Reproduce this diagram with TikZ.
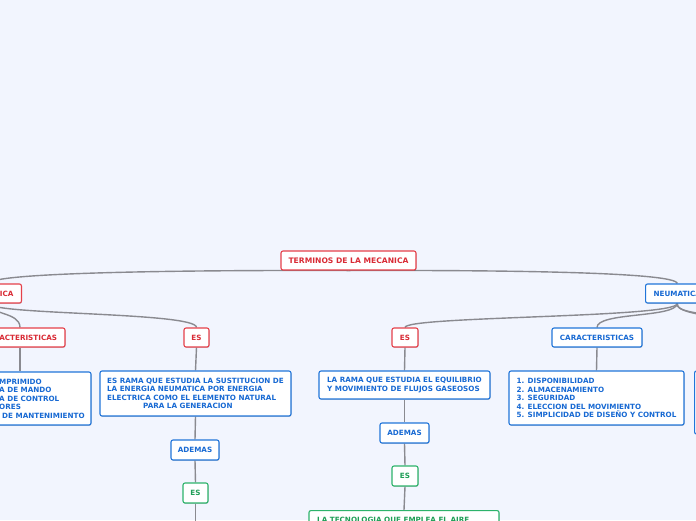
\documentclass[tikz,border=0pt]{standalone}
\usepackage{fontspec}
\setsansfont{DejaVu Sans}
\usetikzlibrary{backgrounds,shadows}
\definecolor{bg}{HTML}{F2F5FE}
\definecolor{rd}{HTML}{E5404A}
\definecolor{rdt}{HTML}{D92B35}
\definecolor{bl}{HTML}{2175D9}
\definecolor{blt}{HTML}{1769D3}
\definecolor{gr}{HTML}{2DB36B}
\definecolor{grt}{HTML}{1F9E57}
\definecolor{ln}{HTML}{8A8A90}
\tikzset{
  base/.style={draw, fill=white, rounded corners=2pt, line width=1.1pt,
    font=\sffamily\bfseries\fontsize{7.2}{8.5}\selectfont, inner sep=0pt,
    minimum height=19pt,
    drop shadow={shadow xshift=0.5pt, shadow yshift=-0.9pt, opacity=0.18, fill=black}},
  rbox/.style={base, draw=rd, text=rdt},
  bbox/.style={base, draw=bl, text=blt},
  gbox/.style={base, draw=gr, text=grt},
  plain/.style={font=\sffamily\bfseries\fontsize{7.2}{8.5}\selectfont, inner sep=0pt, align=left},
  conn/.style={draw=ln, line width=1.4pt},
}
\begin{document}
\begin{tikzpicture}[x=1pt,y=-1pt]
\useasboundingbox (0,0) rectangle (696,520);
\begin{pgfonlayer}{background}
  \fill[bg] (0,0) rectangle (696,520);
\end{pgfonlayer}
\clip (0,0) rectangle (696,520);
% level 0
\node[rbox, minimum width=135pt, font=\sffamily\bfseries\fontsize{7.6}{9}\selectfont] (root) at (348.5,260.5) {TERMINOS DE LA MECANICA};
% level 1
\node[rbox, anchor=east, minimum width=64pt, text width=48pt, align=right] (ica) at (22,293.5) {ICA};
\node[bbox, anchor=west, inner xsep=8pt] (neum) at (645,293.5) {NEUMATICA};
% level 2
\node[rbox, minimum width=90pt] (car1) at (20,337.5) {CARACTERISTICAS};
\node[rbox, minimum width=25pt] (es1) at (196.5,337.5) {ES};
\node[rbox, minimum width=26pt] (es2) at (405,337.5) {ES};
\node[bbox, minimum width=90pt] (car2) at (597,337.5) {CARACTERISTICAS};
% level 3
\node[bbox, minimum width=142pt, minimum height=53pt] (box1) at (20,398.5) {};
\node[plain, text=blt, anchor=west] (box1t) at (-1,398.5) {MPRIMIDO\\A DE MANDO\\A DE CONTROL\\ORES\\\hspace*{3pt}DE MANTENIMIENTO};
\node[bbox, minimum width=191pt, minimum height=45pt, align=left] (box2) at (195.5,393.5)
  {ES RAMA QUE ESTUDIA LA SUSTITUCION DE\\LA ENERGIA NEUMATICA POR ENERGIA\\ELECTRICA COMO EL ELEMENTO NATURAL\\\hspace*{36pt}PARA LA GENERACION};
\node[bbox, minimum width=171pt, minimum height=28pt, align=left] (box3) at (404.5,385)
  {LA RAMA QUE ESTUDIA EL EQUILIBRIO\\Y MOVIMIENTO DE FLUJOS GASEOSOS};
\node[bbox, minimum width=175pt, minimum height=54pt, align=left] (box4) at (596.5,398)
  {1. DISPONIBILIDAD\\2. ALMACENAMIENTO\\3. SEGURIDAD\\4. ELECCION DEL MOVIMIENTO\\5. SIMPLICIDAD DE DISEÑO Y CONTROL};
\node[bbox, anchor=west, minimum width=40pt, minimum height=63pt] (boxr) at (694,402.5) {};
% level 4
\node[bbox, minimum width=48pt, minimum height=20pt] (ad1) at (195,450) {ADEMAS};
\node[bbox, minimum width=49pt, minimum height=20pt] (ad2) at (404.5,433) {ADEMAS};
% level 5
\node[gbox, minimum width=25pt, minimum height=20pt] (ges1) at (195.5,493) {ES};
\node[gbox, minimum width=26pt, minimum height=20pt] (ges2) at (405,476) {ES};
% level 6
\node[gbox, anchor=north, minimum width=190pt, minimum height=40pt] (gbig) at (404,510) {};
\node[plain, text=grt, anchor=base west] (gbigt) at (317,522) {LA TECNOLOGIA QUE EMPLEA EL AIRE};
\coordinate (offr1) at (760,332);
\coordinate (offr2) at (790,345);
\coordinate (offb) at (195.5,540);
\begin{pgfonlayer}{background}
  \clip (0,0) rectangle (696,520);
  \draw[conn] (root.south) .. controls (200,270) and (-10,272) .. (ica.north);
  \draw[conn] (root.south) .. controls (500,270) and (676,272) .. (neum.north);
  \draw[conn] (ica.south) .. controls (-10,315) and (20,312) .. (car1.north);
  \draw[conn] (ica.south) .. controls (-10,315) and (196.5,312) .. (es1.north);
  \draw[conn] (neum.south) .. controls (676,318) and (405,316) .. (es2.north);
  \draw[conn] (neum.south) .. controls (676,318) and (597,312) .. (car2.north);
  \draw[conn] (neum.south) .. controls (676,316) and (720,310) .. (offr1);
  \draw[conn] (neum.south) .. controls (676,318) and (740,312) .. (offr2);
  \draw[conn] (car1.south) -- (box1.north);
  \draw[conn] (es1.south) -- (box2.north);
  \draw[conn] (box2.south) -- (ad1.north);
  \draw[conn] (ad1.south) -- (ges1.north);
  \draw[conn] (ges1.south) -- (offb);
  \draw[conn] (es2.south) -- (box3.north);
  \draw[conn] (box3.south) -- (ad2.north);
  \draw[conn] (ad2.south) -- (ges2.north);
  \draw[conn] (ges2.south) -- (gbig.north);
  \draw[conn] (car2.south) -- (box4.north);
\end{pgfonlayer}
\end{tikzpicture}
\end{document}
